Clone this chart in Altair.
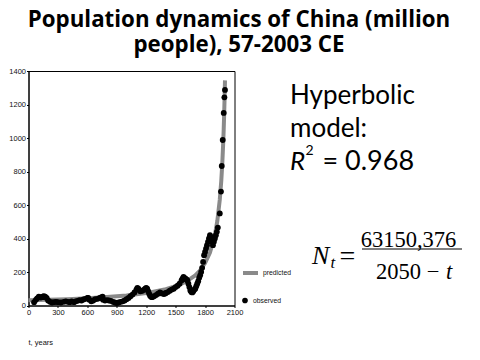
import altair as alt
import pandas as pd

# Observed population of China (million people)
obs_years = [57, 75, 88, 105, 125, 140, 145, 156, 170, 185, 200, 220, 240, 260, 280,
             300, 330, 360, 380, 400, 420, 440, 464, 480, 500, 520, 540, 560, 580, 600,
             609, 620, 640, 660, 680, 705, 726, 740, 755, 760, 780, 800, 820, 840, 860,
             880, 900, 920, 940, 960, 980, 1000, 1020, 1040, 1060, 1080, 1100, 1110, 1120,
             1130, 1140, 1160, 1180, 1190, 1200, 1210, 1220, 1230, 1240, 1250, 1260, 1280,
             1300, 1320, 1340, 1360, 1380, 1393, 1400, 1420, 1440, 1460, 1480, 1500, 1520,
             1540, 1560, 1570, 1580, 1590, 1600, 1610, 1620, 1630, 1640, 1650, 1660, 1670,
             1680, 1690, 1700, 1710, 1720, 1730, 1740, 1750, 1760, 1770, 1780, 1790, 1800,
             1810, 1820, 1830, 1840, 1850, 1860, 1870, 1880, 1890, 1900, 1910, 1920, 1930,
             1950, 1962, 1970, 1980, 1990, 1997, 2003]
obs_pop = [20, 34, 43, 52, 48, 50, 52, 56, 52, 45, 30, 22, 18, 20, 22,
           20, 18, 22, 25, 22, 20, 24, 20, 25, 28, 32, 30, 36, 40, 45,
           46, 35, 25, 30, 38, 40, 45, 48, 52, 35, 30, 32, 30, 28, 22,
           18, 15, 18, 22, 25, 30, 38, 45, 55, 65, 78, 95, 105, 100,
           92, 85, 88, 95, 100, 105, 100, 85, 70, 58, 52, 50, 55,
           62, 70, 78, 72, 68, 72, 75, 80, 88, 95, 100, 110, 118,
           130, 150, 160, 170, 165, 160, 155, 150, 130, 110, 90, 80, 78,
           85, 95, 100, 115, 130, 145, 165, 180, 200, 225, 260, 300, 320,
           340, 360, 380, 400, 420, 410, 380, 360, 380, 400, 420, 440, 465,
           550, 680, 833, 988, 1150, 1243, 1287]

# Predicted (hyperbolic model) curve
pred_years = [0, 200, 400, 600, 800, 1000, 1200, 1400, 1500, 1600, 1700, 1750, 1800,
              1850, 1900, 1925, 1950, 1965, 1975, 1985, 1990, 1995, 2000, 2003]
pred_pop = [31, 34, 38, 43.5, 50.5, 60, 74, 97, 115, 140, 180, 210, 253,
            316, 421, 505, 632, 743, 842, 972, 1053, 1148, 1263, 1344]

x_ticks = [0, 300, 600, 900, 1200, 1500, 1800, 2100]
y_ticks = [0, 200, 400, 600, 800, 1000, 1200, 1400]

title_lines = ["Population dynamics of China (million", "people), 57-2003 CE"]

obs = pd.DataFrame({"t": obs_years, "N": obs_pop, "s": "observed"})
pred = pd.DataFrame({"t": pred_years, "N": pred_pop, "s": "predicted"})
one = pd.DataFrame({"k": [0]})

TICKFONT = "Liberation Sans"
xs = alt.Scale(domain=[0, 2100], nice=False, zero=False)
ys = alt.Scale(domain=[0, 1400], nice=False)

xax = alt.Axis(values=x_ticks, format="d", labelOverlap=False, labelFlush=False,
               title="t, years", titleAnchor="start", titleAlign="left",
               titleX=-0.5, titleY=36.5, titleBaseline="middle", titleFont=TICKFONT,
               titleFontSize=7.5, titleFontWeight="normal", titleColor="#111",
               labelFont=TICKFONT, labelFontSize=7.5, labelColor="#111", labelPadding=1,
               tickSize=2, tickColor="black", domainColor="black", grid=False)
yax = alt.Axis(values=y_ticks, format="d", labelOverlap=False, labelFlush=False,
               title=None, labelFont=TICKFONT, labelFontSize=7.5,
               labelColor="#111", labelPadding=1, tickSize=2, tickColor="black",
               domainColor="black", grid=False)

line = alt.Chart(pred).mark_line(strokeWidth=4).encode(
    x=alt.X("t:Q", scale=xs, axis=xax),
    y=alt.Y("N:Q", scale=ys, axis=yax),
    stroke=alt.Stroke("s:N", scale=alt.Scale(domain=["predicted"], range=["#8a8a8a"]),
                      legend=alt.Legend(orient="none", legendX=212.5, legendY=192.5, title=None,
                                        symbolType="stroke", symbolStrokeWidth=4, symbolSize=225,
                                        labelFont=TICKFONT, labelFontSize=6.8, labelColor="#111",
                                        labelOffset=3)),
)

pts = alt.Chart(obs).mark_point(filled=True, size=34, opacity=1).encode(
    x=alt.X("t:Q", scale=xs, axis=xax),
    y=alt.Y("N:Q", scale=ys, axis=yax),
    fill=alt.Fill("s:N", scale=alt.Scale(domain=["observed"], range=["#000000"]),
                  legend=alt.Legend(orient="none", legendX=212.5, legendY=225.5, title=None,
                                    symbolType="circle", symbolSize=32, symbolOpacity=1,
                                    labelFont=TICKFONT, labelFontSize=6.8, labelColor="#111",
                                    labelOffset=4)),
)

def txt(text, x, y, **kw):
    return alt.Chart(one).mark_text(text=text, **kw).encode(x=alt.value(x), y=alt.value(y))

TITLE_KW = dict(font="Open Sans", fontSize=22.3, fontWeight="bold", align="center",
                baseline="alphabetic", color="black")
title1 = txt(title_lines[0], 210.5, -44.5, **TITLE_KW)
title2 = txt(title_lines[1], 210.5, -19.5, **TITLE_KW)

hyp1 = txt("Hyperbolic", 261.5, 25, font="Lato", fontSize=26, align="left", color="black")
hyp2 = txt("model:", 261.5, 58, font="Lato", fontSize=26, align="left", color="black")
r_sym = txt("R", 261.5, 91, font="Lato", fontSize=26, fontStyle="italic", align="left", color="black")
r_sup = txt("2", 277, 80, font="Lato", fontSize=14, align="left", color="black")
r_val = txt("= 0.968", 294, 91, font="Lato", fontSize=27, align="left", color="black")

SERIF = "Liberation Serif"
f_N = txt("N", 283.5, 185, font=SERIF, fontSize=26, fontStyle="italic", align="left", color="black")
f_t = txt("t", 302, 192, font=SERIF, fontSize=17, fontStyle="italic", align="left", color="black")
f_eq = txt("=", 319, 186, font=SERIF, fontSize=28, align="center", color="black")
f_num = txt("63150,376", 380, 169, font=SERIF, fontSize=22.5, align="center", color="black")
f_den = txt("2050 \u2212", 347.5, 201, font=SERIF, fontSize=22.5, align="left", color="black")
f_dt = txt("t", 417.5, 201, font=SERIF, fontSize=22.5, fontStyle="italic", align="left", color="black")
f_bar = alt.Chart(one).mark_rule(color="black", strokeWidth=1.2).encode(
    x=alt.value(333.5), x2=alt.value(433.5), y=alt.value(178))

chart = alt.layer(
    line, pts, title1, title2, hyp1, hyp2, r_sym, r_sup, r_val,
    f_N, f_t, f_eq, f_num, f_den, f_dt, f_bar,
).resolve_scale(stroke="independent", fill="independent").properties(
    width=206, height=234.5,
    autosize=alt.AutoSizeParams(type="none"),
    padding={"left": 20.5, "top": 63, "right": 237.5, "bottom": 46.5},
    background="white",
).configure_view(stroke="black", strokeWidth=1).configure_axis(labelOverlap=False)

chart.save("out.html", embed_options={"renderer": "svg", "actions": False})
